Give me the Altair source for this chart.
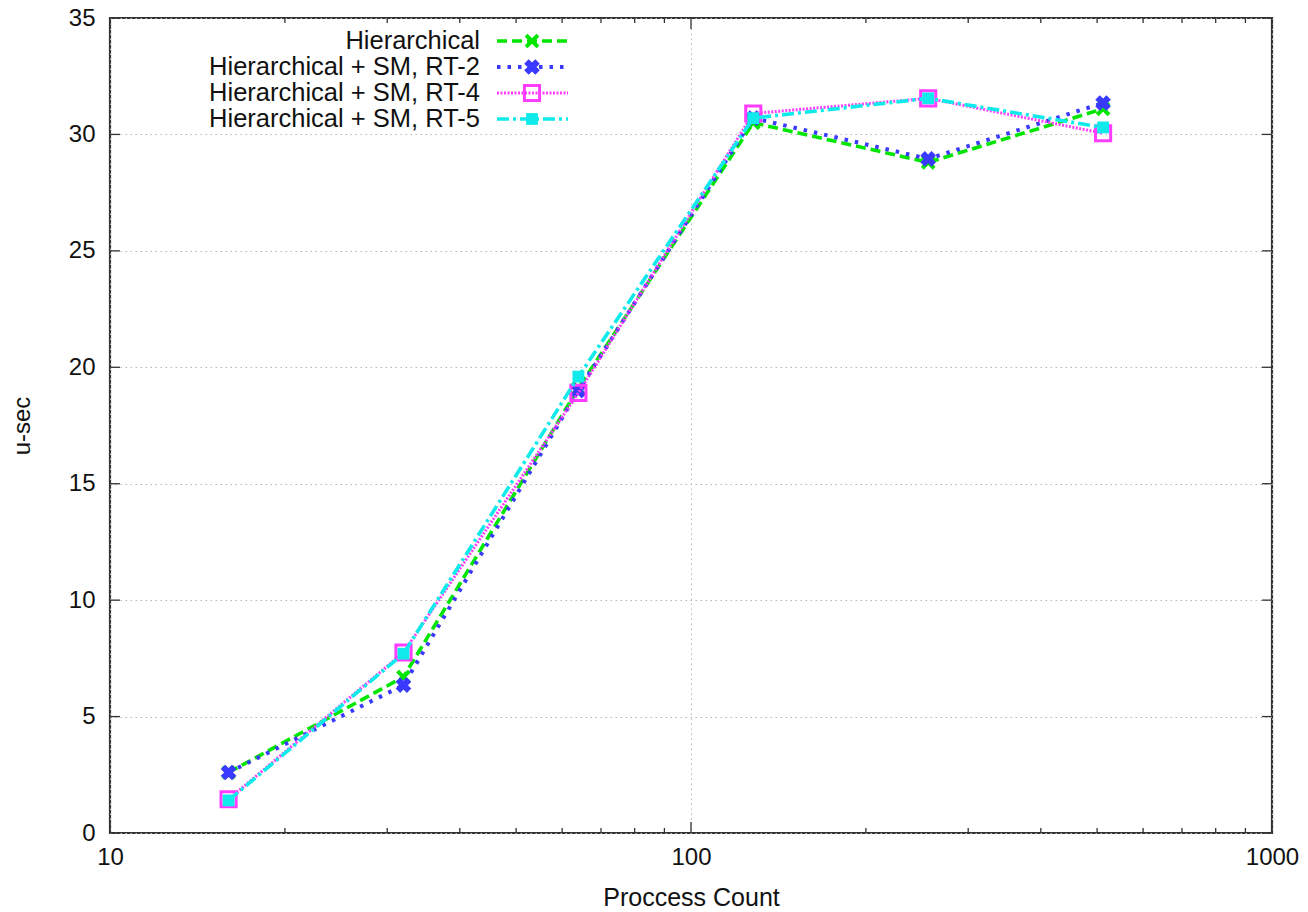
import altair as alt
import pandas as pd

# ---- data ----
process_count = [16, 32, 64, 128, 256, 512]
series_names = [
    "Hierarchical",
    "Hierarchical + SM, RT-2",
    "Hierarchical + SM, RT-4",
    "Hierarchical + SM, RT-5",
]
hier = [2.6, 6.7, 19.1, 30.5, 28.8, 31.1]
hier_rt2 = [2.6, 6.35, 19.0, 30.7, 28.95, 31.35]
hier_rt4 = [1.45, 7.75, 18.9, 30.9, 31.55, 30.05]
hier_rt5 = [1.4, 7.7, 19.6, 30.7, 31.55, 30.3]
series_values = [hier, hier_rt2, hier_rt4, hier_rt5]

x_major = [10, 100, 1000]
x_minor = [20, 30, 40, 50, 60, 70, 80, 90, 200, 300, 400, 500, 600, 700, 800, 900]
y_ticks = [0, 5, 10, 15, 20, 25, 30, 35]

# ---- styling ----
W, H = 1162, 815
FONT = "Liberation Sans"
colors = ["#00e600", "#3a3aff", "#ff3cff", "#10eaea"]
dashes = [[10, 5], [3.5, 7], [2, 1.5], [12, 4, 3, 4]]
widths = [3.6, 4, 3, 3.6]
TICK = "#333333"

xscale = alt.Scale(type="log", domain=[10, 1000])
yscale = alt.Scale(domain=[0, 35])
xaxis = alt.Axis(
    values=x_major, format="d", tickSize=0, domain=False, grid=True,
    gridColor="#b5b5b5", gridDash=[1.5, 3.5], gridWidth=1,
    labelFont=FONT, labelFontSize=24, labelColor="#111", labelPadding=12,
    labelFlush=False, title="Proccess Count", titleFont=FONT, titleFontSize=25,
    titleFontWeight="normal", titleColor="#111", titleBaseline="alphabetic", titleY=72,
)
yaxis = alt.Axis(
    values=y_ticks, tickSize=0, domain=False, grid=True,
    gridColor="#b5b5b5", gridDash=[1.5, 3.5], gridWidth=1,
    labelFont=FONT, labelFontSize=24, labelColor="#111", labelPadding=15,
    title="u-sec", titleFont=FONT, titleFontSize=24, titleFontWeight="normal",
    titleColor="#111", titleX=-88, titleY=H / 2, titleBaseline="middle", titleAngle=-90,
)

X = alt.X("x:Q", scale=xscale, axis=xaxis)
Y = alt.Y("y:Q", scale=yscale, axis=yaxis)

rows = []
for name, vals in zip(series_names, series_values):
    for xv, yv in zip(process_count, vals):
        rows.append({"series": name, "x": xv, "y": yv})
df = pd.DataFrame(rows)

marker_specs = [
    dict(shape="M-1,-1L1,1M-1,1L1,-1", filled=False, size=140, strokeWidth=4),
    dict(shape="cross", angle=45, filled=True, size=250, strokeWidth=1),
    dict(shape="square", filled=False, size=230, strokeWidth=3),
    dict(shape="square", filled=True, size=140, strokeWidth=0),
]

layers = []

# ticks (inward, mirrored)
def tick_layer_x(vals, length):
    d = alt.Data(values=[{"x": v} for v in vals])
    bot = alt.Chart(d).mark_rule(color=TICK, strokeWidth=1.3).encode(
        x=X, y=alt.value(H), y2=alt.value(H - length))
    top = alt.Chart(d).mark_rule(color=TICK, strokeWidth=1.3).encode(
        x=X, y=alt.value(0), y2=alt.value(length))
    return [bot, top]

layers += tick_layer_x(x_major, 11)
layers += tick_layer_x(x_minor, 5)
yd = alt.Data(values=[{"y": v} for v in y_ticks])
layers.append(alt.Chart(yd).mark_rule(color=TICK, strokeWidth=1.3).encode(
    y=Y, x=alt.value(0), x2=alt.value(10)))
layers.append(alt.Chart(yd).mark_rule(color=TICK, strokeWidth=1.3).encode(
    y=Y, x=alt.value(W), x2=alt.value(W - 10)))

# series
for i, name in enumerate(series_names):
    sub = df[df["series"] == name]
    base = alt.Chart(sub)
    layers.append(base.mark_line(
        color=colors[i], strokeDash=dashes[i], strokeWidth=widths[i]
    ).encode(x=X, y=Y))
    ms = marker_specs[i]
    layers.append(base.mark_point(color=colors[i], opacity=1, **ms).encode(x=X, y=Y))

# legend (top-left, inside)
leg_rows = [23, 49, 75, 101]
for i, name in enumerate(series_names):
    ld = alt.Data(values=[{"label": name}])
    ly = leg_rows[i]
    layers.append(alt.Chart(ld).mark_text(
        align="right", baseline="middle", font=FONT, fontSize=25.5, color="#111"
    ).encode(text="label:N", x=alt.value(370), y=alt.value(ly)))
    layers.append(alt.Chart(ld).mark_rule(
        color=colors[i], strokeDash=dashes[i], strokeWidth=widths[i]
    ).encode(x=alt.value(387), x2=alt.value(458), y=alt.value(ly)))
    ms = marker_specs[i]
    layers.append(alt.Chart(ld).mark_point(color=colors[i], opacity=1, **ms).encode(
        x=alt.value(422), y=alt.value(ly)))

chart = alt.layer(*layers).properties(
    width=W, height=H,
    autosize=alt.AutoSizeParams(type="none"),
    padding={"left": 110, "top": 18, "right": 36, "bottom": 79},
    background="white",
).configure_view(stroke="#333333", strokeWidth=2.2)

chart.save("out.html", embed_options={"renderer": "svg", "actions": False})
